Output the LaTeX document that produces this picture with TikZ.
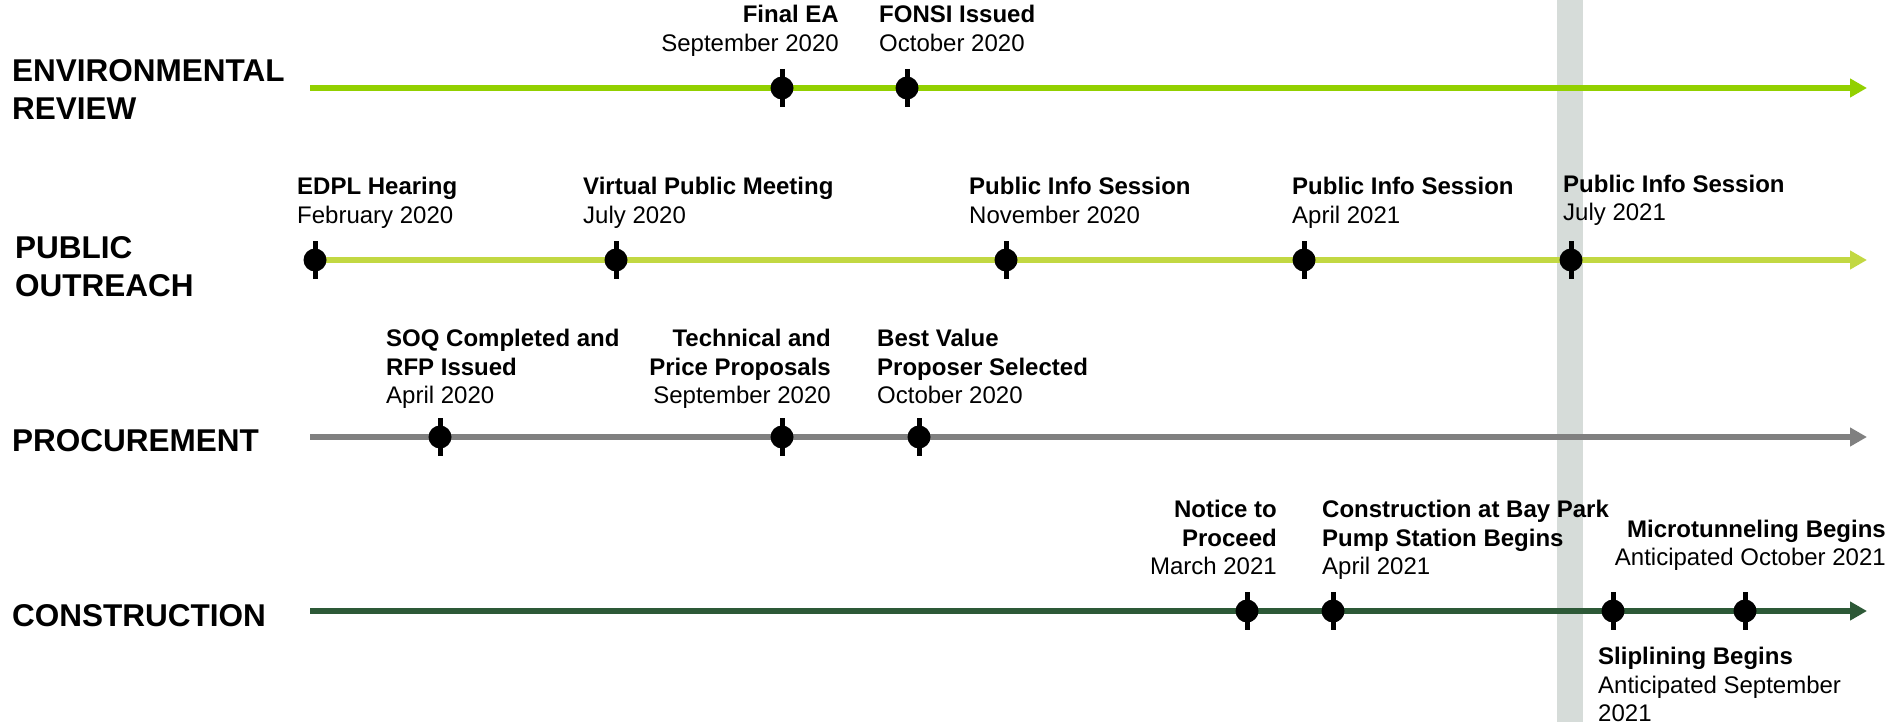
\documentclass[tikz,border=0pt]{standalone}
\usepackage{fontspec}
\setmainfont{Liberation Sans}
\usetikzlibrary{arrows.meta}

\definecolor{envgreen}{RGB}{146,208,0}
\definecolor{outgreen}{RGB}{194,216,66}
\definecolor{procgray}{RGB}{128,128,128}
\definecolor{constgreen}{RGB}{45,89,55}
\definecolor{bandgray}{RGB}{214,220,217}

\begin{document}
\begin{tikzpicture}[
  x=1pt, y=-1pt,
  rowlabel/.style={anchor=south west, inner sep=0pt, text depth=0pt, align=left, font=\fontsize{31.5}{38}\selectfont\bfseries},
  event/.style={anchor=south west, inner sep=0pt, text depth=0pt, align=left, font=\fontsize{24}{28.5}\selectfont},
  eventr/.style={event, anchor=south east, align=right},
  stop/.style={circle, fill=black, minimum size=23pt, inner sep=0pt},
  stemline/.style={line width=5pt, black},
  timeline/.style={line width=6.5pt, -{Triangle[length=17pt, width=18pt]}}
]
\useasboundingbox (0,0) rectangle (1893,725);

% --- TODAY BAND ---
\fill[bandgray] (1557,0) rectangle (1583,722);

% --- ROW LABELS ---
\node[rowlabel] (env) at (12,120) {ENVIRONMENTAL\\REVIEW};
\node[rowlabel] (out) at (15,297) {PUBLIC\\OUTREACH};
\node[rowlabel] (proc) at (12,452) {PROCUREMENT};
\node[rowlabel] (const) at (12,627) {CONSTRUCTION};

% --- TIMELINES ---
\coordinate (envstart) at (310,88);
\coordinate (envend) at (1867,88);
\coordinate (outstart) at (315,260);
\coordinate (outend) at (1867,260);
\coordinate (procstart) at (310,437);
\coordinate (procend) at (1867,437);
\coordinate (conststart) at (310,611);
\coordinate (constend) at (1867,611);

\draw[timeline, envgreen] (envstart) -- (envend);
\draw[timeline, outgreen] (outstart) -- (outend);
\draw[timeline, procgray] (procstart) -- (procend);
\draw[timeline, constgreen] (conststart) -- (constend);

% Milestone markers on the lines
\foreach \x/\y/\n in {782/88/ea, 907/88/fonsi,
    315/260/edpl, 616/260/vpm, 1006/260/pis1, 1304/260/pis2, 1571/260/pis3,
    440/437/soq, 782/437/tpp, 919/437/bvp,
    1247/611/ntp, 1333/611/bpps, 1613/611/slip, 1745/611/micro} {
  \node[stop] (\n) at (\x,\y) {};
  \draw[stemline] ([yshift=19pt]\n.center) -- ([yshift=-19pt]\n.center);
}

% --- EVENT LABELS ---
\node[eventr] (eatext) at (839,51.5) {\textbf{Final EA}\\September 2020};
\node[event] (fonsitext) at (879,51.5) {\textbf{FONSI Issued}\\October 2020};

\node[event] (edpltext) at (297,223.5) {\textbf{EDPL Hearing}\\February 2020};
\node[event] (vpmtext) at (583,223.5) {\textbf{Virtual Public Meeting}\\July 2020};
\node[event] (pis1text) at (969,223.5) {\textbf{Public Info Session}\\November 2020};
\node[event] (pis2text) at (1292,223.5) {\textbf{Public Info Session}\\April 2021};
\node[event] (pis3text) at (1563,221) {\textbf{Public Info Session}\\July 2021};

\node[event] (soqtext) at (386,404) {\textbf{SOQ Completed and}\\\textbf{RFP Issued}\\April 2020};
\node[eventr] (tpptext) at (831,404) {\textbf{Technical and}\\\textbf{Price Proposals}\\September 2020};
\node[event] (bvptext) at (877,404) {\textbf{Best Value}\\\textbf{Proposer Selected}\\October 2020};

\node[eventr] (ntptext) at (1277,575) {\textbf{Notice to}\\\textbf{Proceed}\\March 2021};
\node[event] (bppstext) at (1322,575) {\textbf{Construction at Bay Park}\\\textbf{Pump Station Begins}\\April 2021};
\node[eventr] (microtext) at (1886,566) {\textbf{Microtunneling Begins}\\Anticipated October 2021};
\node[event] (sliptext) at (1598,722) {\textbf{Sliplining Begins}\\Anticipated September\\2021};

\end{tikzpicture}
\end{document}
